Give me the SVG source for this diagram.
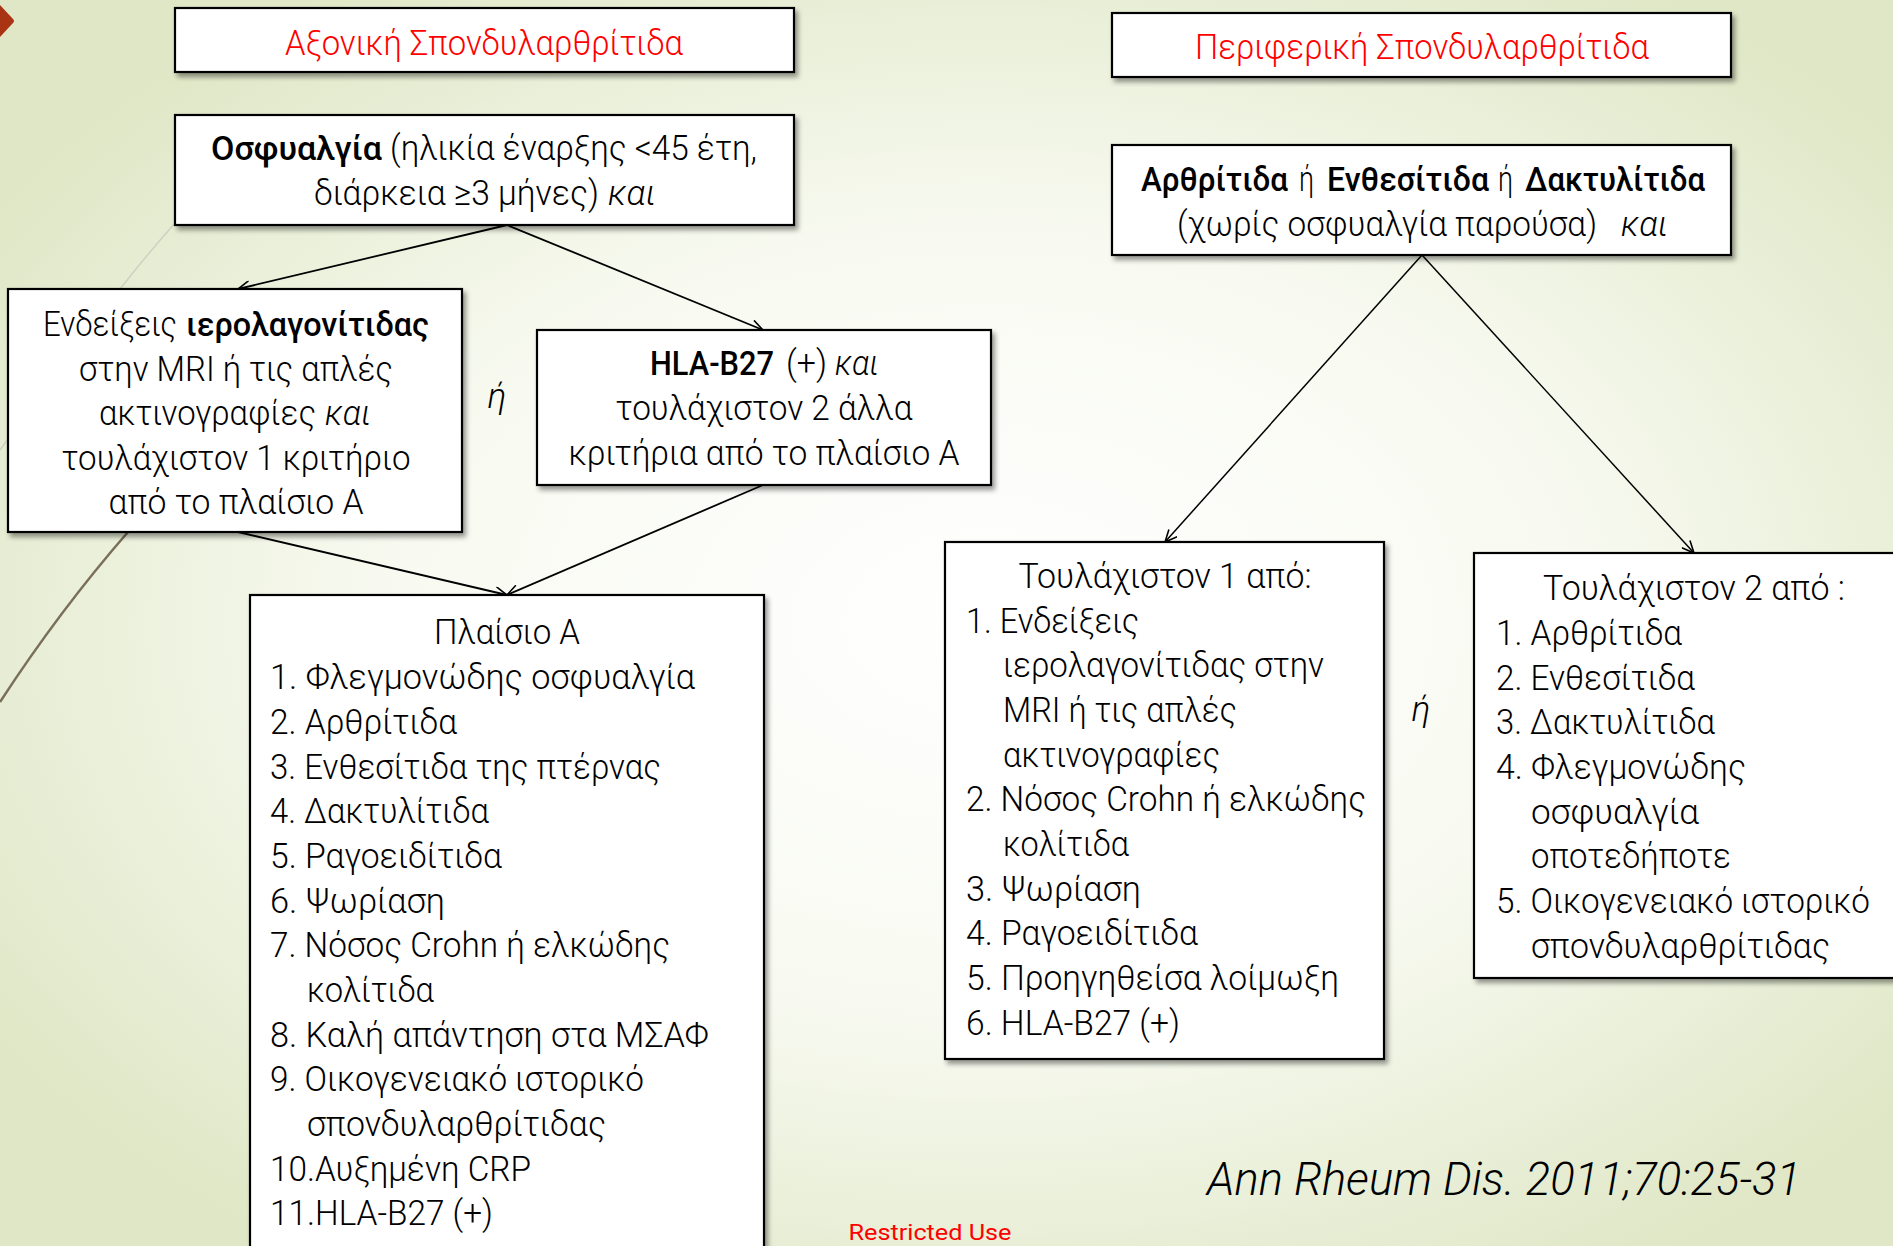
<svg xmlns="http://www.w3.org/2000/svg" width="1893" height="1246" viewBox="0 0 1893 1246">
<defs>
<radialGradient id="bg" cx="0.52" cy="0.5" r="0.62">
<stop offset="0" stop-color="#ffffff"/>
<stop offset="0.5" stop-color="#f8faf1"/>
<stop offset="1" stop-color="#dfe7c6"/>
</radialGradient>
<filter id="sh" x="-5%" y="-5%" width="115%" height="120%">
<feDropShadow dx="3" dy="4" stdDeviation="2.5" flood-color="#000" flood-opacity="0.4"/>
</filter>
<marker id="ah" viewBox="0 0 14 12" refX="13" refY="6" markerWidth="14" markerHeight="12" markerUnits="userSpaceOnUse" orient="auto">
<path d="M1,0.5 L13,6 L1,11.5" fill="none" stroke="#000" stroke-width="1.6"/>
</marker>
</defs>
<style>
.box{fill:#fff;stroke:#000;stroke-width:2.2;filter:url(#sh)}
.t{font-family:Roboto,"DejaVu Sans Condensed","Liberation Sans",sans-serif;font-weight:300;font-size:35px;fill:#000}
.c{text-anchor:middle}
.red{fill:#ff0000}
.b{font-weight:500;font-size:33px}
.i{font-style:italic}
.cn{stroke:#000;stroke-width:1.8;fill:none;marker-end:url(#ah)}
</style>
<rect width="1893" height="1246" fill="url(#bg)"/>
<path d="M0,5 L13,19 Q15,21 13,23 L0,37 Z" fill="#a93414"/>
<path d="M176,222 Q140,262 96,320 Q40,395 0,450" fill="none" stroke="#cfd0c2" stroke-width="1.5"/>
<path d="M128,532 Q60,610 0,702" fill="none" stroke="#7a6f58" stroke-width="2.5"/>

<g id="connectors">
<line class="cn" x1="507" y1="225" x2="238" y2="289"/>
<line class="cn" x1="507" y1="225" x2="763" y2="330"/>
<line class="cn" x1="238" y1="532" x2="507" y2="595"/>
<line class="cn" x1="763" y1="485" x2="507" y2="595"/>
<line class="cn" x1="1422" y1="255" x2="1165" y2="542" style="stroke-width:1.5"/>
<line class="cn" x1="1422" y1="255" x2="1694" y2="553" style="stroke-width:1.5"/>
</g>

<g id="axial-title">
<rect class="box" x="175" y="8" width="619" height="64"/>
<text class="t c red" x="484" y="55" textLength="398" lengthAdjust="spacingAndGlyphs">Αξονική Σπονδυλαρθρίτιδα</text>
</g>
<g id="back-pain">
<rect class="box" x="175" y="115" width="619" height="110"/>
<text class="t b" x="211" y="160" textLength="171" lengthAdjust="spacingAndGlyphs">Οσφυαλγία</text>
<text class="t" x="390" y="160" textLength="367" lengthAdjust="spacingAndGlyphs">(ηλικία έναρξης &lt;45 έτη,</text>
<text class="t" x="314" y="205" textLength="285" lengthAdjust="spacingAndGlyphs">διάρκεια ≥3 μήνες)</text>
<text class="t i" x="608" y="205" textLength="48" lengthAdjust="spacingAndGlyphs">και</text>
</g>
<g id="imaging">
<rect class="box" x="8" y="289" width="454" height="243"/>
<text class="t" x="43" y="336" textLength="134" lengthAdjust="spacingAndGlyphs">Ενδείξεις</text>
<text class="t b" x="186" y="336" textLength="243" lengthAdjust="spacingAndGlyphs">ιερολαγονίτιδας</text>
<text class="t c" x="236" y="381" textLength="314" lengthAdjust="spacingAndGlyphs">στην MRI ή τις απλές</text>
<text class="t" x="99" y="425" textLength="217" lengthAdjust="spacingAndGlyphs">ακτινογραφίες</text>
<text class="t i" x="325" y="425" textLength="46" lengthAdjust="spacingAndGlyphs">και</text>
<text class="t c" x="236" y="470" textLength="349" lengthAdjust="spacingAndGlyphs">τουλάχιστον 1 κριτήριο</text>
<text class="t c" x="236" y="514" textLength="255" lengthAdjust="spacingAndGlyphs">από το πλαίσιο Α</text>
</g>
<text class="t c i" x="497" y="408">ή</text>
<g id="hla">
<rect class="box" x="537" y="330" width="454" height="155"/>
<text class="t b" x="650" y="375" textLength="124" lengthAdjust="spacingAndGlyphs">HLA-B27</text>
<text class="t" x="786" y="375" textLength="41" lengthAdjust="spacingAndGlyphs">(+)</text>
<text class="t i" x="835" y="375" textLength="44" lengthAdjust="spacingAndGlyphs">και</text>
<text class="t c" x="764" y="420" textLength="297" lengthAdjust="spacingAndGlyphs">τουλάχιστον 2 άλλα</text>
<text class="t c" x="764" y="465" textLength="391" lengthAdjust="spacingAndGlyphs">κριτήρια από το πλαίσιο Α</text>
</g>
<g id="box-a">
<rect class="box" x="250" y="595" width="514" height="700"/>
<text class="t c" x="507" y="644" textLength="146" lengthAdjust="spacingAndGlyphs">Πλαίσιο Α</text>
<text class="t" x="270" y="689" textLength="425" lengthAdjust="spacingAndGlyphs">1. Φλεγμονώδης οσφυαλγία</text>
<text class="t" x="270" y="734" textLength="187" lengthAdjust="spacingAndGlyphs">2. Αρθρίτιδα</text>
<text class="t" x="270" y="779" textLength="391" lengthAdjust="spacingAndGlyphs">3. Ενθεσίτιδα της πτέρνας</text>
<text class="t" x="270" y="823" textLength="219" lengthAdjust="spacingAndGlyphs">4. Δακτυλίτιδα</text>
<text class="t" x="270" y="868" textLength="232" lengthAdjust="spacingAndGlyphs">5. Ραγοειδίτιδα</text>
<text class="t" x="270" y="913" textLength="175" lengthAdjust="spacingAndGlyphs">6. Ψωρίαση</text>
<text class="t" x="270" y="957" textLength="400" lengthAdjust="spacingAndGlyphs">7. Νόσος Crohn ή ελκώδης</text>
<text class="t" x="307" y="1002" textLength="127" lengthAdjust="spacingAndGlyphs">κολίτιδα</text>
<text class="t" x="270" y="1047" textLength="439" lengthAdjust="spacingAndGlyphs">8. Καλή απάντηση στα ΜΣΑΦ</text>
<text class="t" x="270" y="1091" textLength="374" lengthAdjust="spacingAndGlyphs">9. Οικογενειακό ιστορικό</text>
<text class="t" x="307" y="1136" textLength="299" lengthAdjust="spacingAndGlyphs">σπονδυλαρθρίτιδας</text>
<text class="t" x="270" y="1181" textLength="261" lengthAdjust="spacingAndGlyphs">10.Αυξημένη CRP</text>
<text class="t" x="270" y="1225" textLength="223" lengthAdjust="spacingAndGlyphs">11.HLA-B27 (+)</text>
</g>

<g id="peripheral-title">
<rect class="box" x="1112" y="13" width="619" height="64"/>
<text class="t c red" x="1422" y="59" textLength="454" lengthAdjust="spacingAndGlyphs">Περιφερική Σπονδυλαρθρίτιδα</text>
</g>
<g id="arthritis">
<rect class="box" x="1112" y="145" width="619" height="110"/>
<text class="t b" x="1141" y="191" textLength="147" lengthAdjust="spacingAndGlyphs">Αρθρίτιδα</text>
<text class="t" x="1299" y="191" textLength="15" lengthAdjust="spacingAndGlyphs">ή</text>
<text class="t b" x="1327" y="191" textLength="162" lengthAdjust="spacingAndGlyphs">Ενθεσίτιδα</text>
<text class="t" x="1498" y="191" textLength="15" lengthAdjust="spacingAndGlyphs">ή</text>
<text class="t b" x="1525" y="191" textLength="180" lengthAdjust="spacingAndGlyphs">Δακτυλίτιδα</text>
<text class="t" x="1177" y="236" textLength="420" lengthAdjust="spacingAndGlyphs">(χωρίς οσφυαλγία παρούσα)</text>
<text class="t i" x="1621" y="236" textLength="47" lengthAdjust="spacingAndGlyphs">και</text>
</g>
<g id="at-least-1">
<rect class="box" x="945" y="542" width="439" height="517"/>
<text class="t c" x="1165" y="588" textLength="293" lengthAdjust="spacingAndGlyphs">Τουλάχιστον 1 από:</text>
<text class="t" x="966" y="633" textLength="173" lengthAdjust="spacingAndGlyphs">1. Ενδείξεις</text>
<text class="t" x="1003" y="677" textLength="321" lengthAdjust="spacingAndGlyphs">ιερολαγονίτιδας στην</text>
<text class="t" x="1003" y="722" textLength="234" lengthAdjust="spacingAndGlyphs">MRI ή τις απλές</text>
<text class="t" x="1003" y="767" textLength="217" lengthAdjust="spacingAndGlyphs">ακτινογραφίες</text>
<text class="t" x="966" y="811" textLength="400" lengthAdjust="spacingAndGlyphs">2. Νόσος Crohn ή ελκώδης</text>
<text class="t" x="1003" y="856" textLength="126" lengthAdjust="spacingAndGlyphs">κολίτιδα</text>
<text class="t" x="966" y="901" textLength="175" lengthAdjust="spacingAndGlyphs">3. Ψωρίαση</text>
<text class="t" x="966" y="945" textLength="232" lengthAdjust="spacingAndGlyphs">4. Ραγοειδίτιδα</text>
<text class="t" x="966" y="990" textLength="373" lengthAdjust="spacingAndGlyphs">5. Προηγηθείσα λοίμωξη</text>
<text class="t" x="966" y="1035" textLength="214" lengthAdjust="spacingAndGlyphs">6. HLA-B27 (+)</text>
</g>
<text class="t c i" x="1421" y="721">ή</text>
<g id="at-least-2">
<rect class="box" x="1474" y="553" width="440" height="425"/>
<text class="t c" x="1694" y="600" textLength="302" lengthAdjust="spacingAndGlyphs">Τουλάχιστον 2 από :</text>
<text class="t" x="1496" y="645" textLength="186" lengthAdjust="spacingAndGlyphs">1. Αρθρίτιδα</text>
<text class="t" x="1496" y="690" textLength="199" lengthAdjust="spacingAndGlyphs">2. Ενθεσίτιδα</text>
<text class="t" x="1496" y="734" textLength="219" lengthAdjust="spacingAndGlyphs">3. Δακτυλίτιδα</text>
<text class="t" x="1496" y="779" textLength="250" lengthAdjust="spacingAndGlyphs">4. Φλεγμονώδης</text>
<text class="t" x="1531" y="824" textLength="168" lengthAdjust="spacingAndGlyphs">οσφυαλγία</text>
<text class="t" x="1531" y="868" textLength="200" lengthAdjust="spacingAndGlyphs">οποτεδήποτε</text>
<text class="t" x="1496" y="913" textLength="374" lengthAdjust="spacingAndGlyphs">5. Οικογενειακό ιστορικό</text>
<text class="t" x="1531" y="958" textLength="299" lengthAdjust="spacingAndGlyphs">σπονδυλαρθρίτιδας</text>
</g>

<text class="t i" x="1207" y="1195" style="font-size:46px" textLength="594" lengthAdjust="spacingAndGlyphs">Ann Rheum Dis. 2011;70:25-31</text>
<text class="t c red" x="930" y="1240" style="font-size:22px;font-weight:400" textLength="163" lengthAdjust="spacingAndGlyphs">Restricted Use</text>
</svg>
